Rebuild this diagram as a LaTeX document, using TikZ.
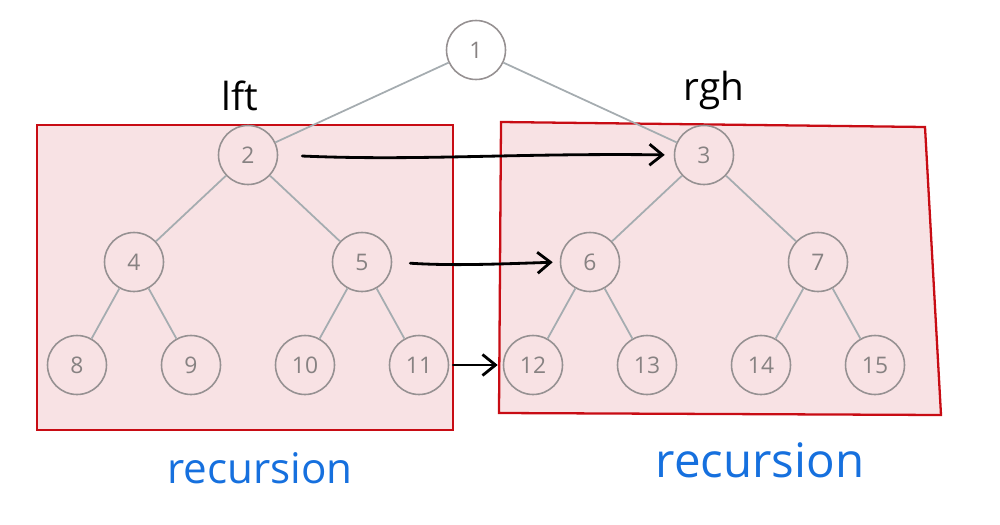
\documentclass[tikz,border=0pt]{standalone}
\usepackage{fontspec}
\setmainfont{Open Sans}
\usetikzlibrary{arrows.meta}
\definecolor{edgegray}{RGB}{165,172,176}
\definecolor{ringgray}{RGB}{150,145,146}
\definecolor{numgray}{RGB}{135,130,130}
\definecolor{boxred}{RGB}{200,12,20}
\definecolor{boxpink}{RGB}{248,226,228}
\definecolor{inkblue}{RGB}{22,112,222}

\begin{document}
\begin{tikzpicture}[x=0.02cm, y=-0.02cm,
  vtx/.style={circle, draw=ringgray, line width=0.9pt, minimum size=1.18cm,
              inner sep=0pt, text=numgray, font=\fontsize{13}{15}\selectfont},
  edge/.style={edgegray, line width=1pt},
  region/.style={draw=boxred, line width=1.3pt, fill=boxpink},
  ar/.style={-{Straight Barb[length=2.6mm,width=4.2mm]}, line width=1.6pt,
             line cap=round},
  hand/.style={font=\fontsize{22}{26}\selectfont},
  note/.style={text=inkblue, font=\fontsize{24}{28}\selectfont}
]
\useasboundingbox (0,0) rectangle (1000,524);

% the two recursion regions
\draw[region] (37,125) rectangle (453,430);
\draw[region] (501,122) -- (925,127) -- (941,415) -- (499,413) -- cycle;

% heap nodes
\node[vtx] (n1) at (476,50) {1};
\node[vtx] (n2) at (248,155) {2};
\node[vtx] (n3) at (704,155) {3};
\node[vtx] (n4) at (134,262) {4};
\node[vtx] (n5) at (362,262) {5};
\node[vtx] (n6) at (590,262) {6};
\node[vtx] (n7) at (818,262) {7};
\node[vtx] (n8) at (77,365) {8};
\node[vtx] (n9) at (191,365) {9};
\node[vtx] (n10) at (305,365) {10};
\node[vtx] (n11) at (419,365) {11};
\node[vtx] (n12) at (533,365) {12};
\node[vtx] (n13) at (647,365) {13};
\node[vtx] (n14) at (761,365) {14};
\node[vtx] (n15) at (875,365) {15};

\draw[edge] (n1) -- (n2);
\draw[edge] (n1) -- (n3);
\draw[edge] (n2) -- (n4);
\draw[edge] (n2) -- (n5);
\draw[edge] (n3) -- (n6);
\draw[edge] (n3) -- (n7);
\draw[edge] (n4) -- (n8);
\draw[edge] (n4) -- (n9);
\draw[edge] (n5) -- (n10);
\draw[edge] (n5) -- (n11);
\draw[edge] (n6) -- (n12);
\draw[edge] (n6) -- (n13);
\draw[edge] (n7) -- (n14);
\draw[edge] (n7) -- (n15);

% handwritten labels
\node[hand] (lft) at (240,96) {lft};
\node[hand] (rgh) at (714,90) {rgh};
\node[note] (recl) at (260,468) {recursion};
\node[note, font=\fontsize{27}{32}\selectfont] (recr) at (760,460) {recursion};

% level-by-level hand-off
\draw[ar, shorten <=0.48cm, shorten >=0.18cm] (n2.east) .. controls +(140,6) and +(-160,-2) .. (n3.west);
\draw[ar, shorten <=0.36cm, shorten >=0.14cm] (n5.east) .. controls +(60,4) and +(-60,2) .. (n6.west);
\draw[ar, shorten <=0.08cm, shorten >=0.1cm] (n11.east) -- (n12.west);
\end{tikzpicture}
\end{document}
